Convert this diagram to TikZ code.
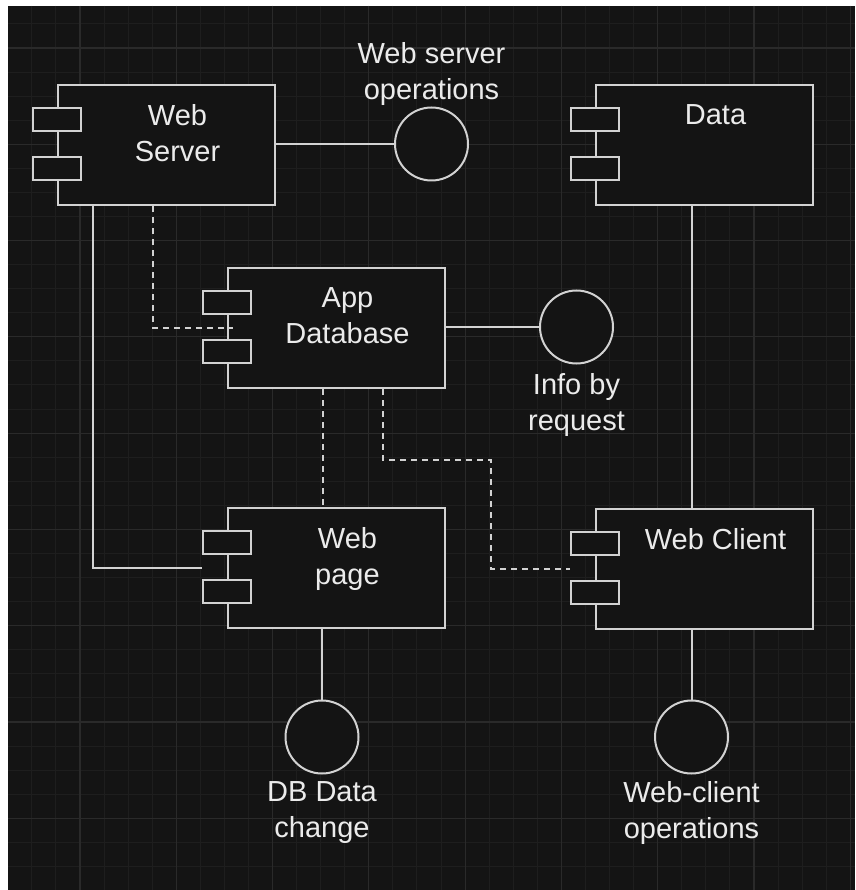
\documentclass[tikz,border=0pt]{standalone}
\usepackage{fontspec}
\setmainfont{Liberation Sans}
\definecolor{bgc}{HTML}{141414}
\definecolor{gridminor}{HTML}{1E1E1E}
\definecolor{gridmajor}{HTML}{2A2A2A}
\definecolor{ink}{HTML}{D2D2D2}
\definecolor{txt}{HTML}{EBEBEB}
\tikzset{
  body/.style={draw=ink, fill=bgc, line width=2pt, minimum width=217pt,
    minimum height=120pt, inner sep=0pt, anchor=north west},
  port/.style={draw=ink, fill=bgc, line width=2pt, minimum width=48pt,
    minimum height=23pt, inner sep=0pt},
  iface/.style={circle, draw=ink, fill=bgc, line width=2pt, minimum size=73pt,
    inner sep=0pt},
  txtstyle/.style={text=txt, font=\fontsize{29}{36}\selectfont, align=center,
    inner sep=0pt},
  wire/.style={draw=ink, line width=2pt},
  dep/.style={wire, dash pattern=on 6pt off 5pt},
}
% UML component: body, two port rectangles and a top-aligned title
\newcommand\umlcomp[4]{%
  \node[body] (#1) at (#2,#3) {};
  \node[port] (#1-p1) at (#2,#3+35.5) {};
  \node[port] (#1-p2) at (#2,#3+84.5) {};
  \node[txtstyle, anchor=north] (#1-t) at (#2+120.5,#3+20) {#4};
}
\begin{document}
\begin{tikzpicture}[x=1pt,y=-1pt]
  \useasboundingbox (0,0) rectangle (855,890);
  % canvas and grid
  \fill[white] (0,0) rectangle (855,890);
  \fill[bgc] (8,6) rectangle (855,890);
  \foreach \i in {-2,...,32}
    \draw[gridminor, line width=1pt] ({80+24.07*\i},6) -- ({80+24.07*\i},890);
  \foreach \i in {-1,...,34}
    \draw[gridminor, line width=1pt] (8,{48+24.07*\i}) -- (855,{48+24.07*\i});
  \foreach \i in {0,...,8}
    \draw[gridmajor, line width=1.2pt] ({80+96.28*\i},6) -- ({80+96.28*\i},890);
  \foreach \i in {0,...,8}
    \draw[gridmajor, line width=1.2pt] (8,{48+96.28*\i}) -- (855,{48+96.28*\i});

  % components
  \umlcomp{ws}{57}{84}{Web\\Server}
  \umlcomp{data}{595}{84}{Data}
  \umlcomp{db}{227}{267}{App\\Database}
  \umlcomp{wp}{227}{507}{Web\\page}
  \umlcomp{wc}{595}{508}{Web Client}

  % provided interfaces
  \node[iface] (ops) at (431.5,144) {};
  \node[iface] (info) at (576.5,327) {};
  \node[iface] (dbc) at (322,737) {};
  \node[iface] (wcops) at (691.5,737) {};

  \node[txtstyle, anchor=south] (ops-l) at ([yshift=1pt]ops.north) {Web server\\operations};
  \node[txtstyle, anchor=north] (info-l) at ([yshift=-9pt]info.south) {Info by\\request};
  \node[txtstyle, anchor=north] (dbc-l) at ([yshift=-7pt]dbc.south) {DB Data\\change};
  \node[txtstyle, anchor=north] (wcops-l) at ([yshift=-7pt]wcops.south) {Web-client\\operations};

  % solid links
  \draw[wire] (ops.west -| ws.east) -- (ops.west);
  \draw[wire] (info.west -| db.east) -- (info.west);
  \draw[wire] (dbc |- wp.south) -- (dbc);
  \draw[wire] (wcops |- wc.south) -- (wcops);
  \draw[wire] (wcops |- data.south) -- (wcops |- wc.north);
  \draw[wire] ([xshift=36pt]ws.south west) |- (wp.west -| wp-p1.west);

  % dashed dependencies
  \coordinate (bend) at (491,460);
  \draw[dep] ([xshift=96pt]ws.south west) |- ([xshift=6pt]db.west);
  \draw[dep] ([xshift=96pt]db.south west) -- ([xshift=96pt]wp.north west);
  \draw[dep] ([xshift=156pt]db.south west) |- (bend) |- (wc.west -| wc-p1.west);
\end{tikzpicture}
\end{document}
